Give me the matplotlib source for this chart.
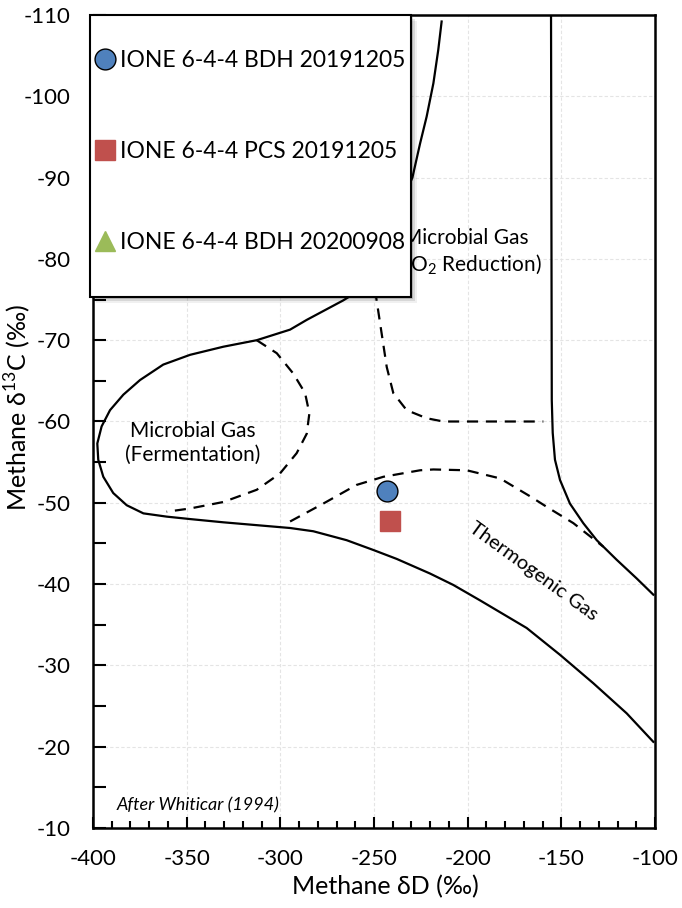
import matplotlib
matplotlib.use("Agg")
import matplotlib.pyplot as plt
from matplotlib.patches import Rectangle
from matplotlib.ticker import MultipleLocator

plt.rcParams['font.family'] = ['Lato', 'DejaVu Sans']
plt.rcParams['axes.unicode_minus'] = False
plt.rcParams['mathtext.fontset'] = 'custom'
plt.rcParams['mathtext.rm'] = 'Lato'

# Whiticar (1994) field boundaries (dD, d13C)
outer_x = [-213.9, -215.7, -218.3, -221.9, -225.4, -229.5, -244.1, -260.1, -266.4, -285.9,
           -294.8, -312.6, -330.4, -348.2, -362.5, -374.9, -383.8, -390.9, -395.4, -397.7,
           -397.2, -394.5, -389.2, -382.0, -373.1, -360.7, -348.2, -330.4, -294.8, -282.4,
           -264.6, -250.4, -237.9, -220.1, -207.7, -193.4, -168.5, -150.7, -132.9, -115.1,
           -100.9]
outer_y = [-109.2, -105.7, -101.6, -97.5, -94.2, -90.0, -82.3, -75.8, -74.9, -72.5,
           -71.3, -70.0, -69.2, -68.2, -67.0, -65.1, -63.3, -61.4, -59.4, -57.3,
           -55.3, -53.2, -51.2, -49.7, -48.7, -48.3, -48.0, -47.6, -46.9, -46.5,
           -45.4, -44.2, -43.1, -41.3, -39.9, -38.0, -34.6, -31.3, -27.8, -24.1,
           -20.6]

right_x = [-155.5, -155.1, -154.6, -153.4, -150.7, -145.4, -138.3, -131.1, -120.5,
           -109.8, -100.9]
right_y = [-110.0, -62.6, -58.6, -55.3, -52.8, -49.9, -47.5, -45.4, -43.0,
           -40.7, -38.7]

ferm_x = [-312.6, -301.9, -293.1, -286.8, -284.5, -285.9, -291.3, -300.2, -312.6, -330.4,
          -348.2, -360.7]
ferm_y = [-70.0, -68.4, -65.9, -63.5, -61.0, -58.5, -56.1, -53.6, -51.6, -50.1,
          -49.3, -48.9]

co2_x = [-249.5, -248.6, -245.9, -243.2, -239.7, -232.6, -221.9, -213.0, -159.6]
co2_y = [-76.2, -74.9, -70.8, -66.7, -63.5, -61.4, -60.4, -60.0, -60.0]

thermo_x = [-294.8, -277.1, -259.3, -245.0, -225.4, -218.3, -200.5, -182.7, -166.7,
            -157.8, -143.6, -127.6]
thermo_y = [-47.7, -49.9, -52.2, -53.2, -54.0, -54.1, -54.0, -53.0, -50.8,
            -49.5, -47.5, -44.6]

# samples
bdh_2019_dD = [-243.1]
bdh_2019_d13C = [-51.5]
pcs_2019_dD = [-241.5]
pcs_2019_d13C = [-47.8]
bdh_2020_dD = []
bdh_2020_d13C = []

fig = plt.figure(figsize=(6.82, 9.08), dpi=100)
ax = fig.add_axes([93 / 682, 1 - 828 / 908, 562 / 682, 813 / 908])

ax.plot(outer_x, outer_y, color='black', lw=1.6)
ax.plot(right_x, right_y, color='black', lw=1.6)
for xs, ys in [(ferm_x, ferm_y), (co2_x, co2_y), (thermo_x, thermo_y)]:
    ax.plot(xs, ys, color='black', lw=1.6, linestyle=(0, (5, 3.5)))

h1, = ax.plot(bdh_2019_dD, bdh_2019_d13C, 'o', ms=15, mfc='#4F81BD', mec='black',
              mew=1.0, label='IONE 6-4-4 BDH 20191205', zorder=5)
h2, = ax.plot(pcs_2019_dD, pcs_2019_d13C, 's', ms=14.5, mfc='#C0504D', mec='#C0504D',
              label='IONE 6-4-4 PCS 20191205', zorder=5)
h3, = ax.plot(bdh_2020_dD, bdh_2020_d13C, '^', ms=15, mfc='#9BBB59', mec='#9BBB59',
              label='IONE 6-4-4 BDH 20200908', zorder=5)

ax.text(-346.6, -57.4, 'Microbial Gas\n(Fermentation)', ha='center', va='center',
        fontsize=15, linespacing=1.25)
ax.text(-200.9, -80.8, 'Microbial Gas\n(CO$_2$ Reduction)', ha='center', va='center',
        fontsize=15, linespacing=1.25)
ax.text(-165.1, -41.5, 'Thermogenic Gas', ha='center', va='center', fontsize=14.5,
        rotation=-36)
ax.text(-387.5, -12.8, 'After Whiticar (1994)', ha='left', va='center', fontsize=13,
        style='italic')

ax.set_xlim(-400, -100)
ax.set_ylim(-10, -110)
ax.xaxis.set_major_locator(MultipleLocator(50))
ax.xaxis.set_minor_locator(MultipleLocator(10))
ax.yaxis.set_major_locator(MultipleLocator(10))
ax.yaxis.set_minor_locator(MultipleLocator(5))
ax.tick_params(which='both', direction='in', width=1.5, labelsize=16, top=False, right=False)
ax.tick_params(axis='x', which='major', length=8, pad=15)
ax.tick_params(axis='x', which='minor', length=5)
ax.tick_params(axis='y', which='both', length=9, pad=16)
for s in ax.spines.values():
    s.set_linewidth(1.8)
ax.grid(True, which='major', color='#e4e4e4', lw=0.8, linestyle=(0, (3, 2)))
ax.set_axisbelow(True)

ax.set_xlabel('Methane δD (‰)', fontsize=18)
ax.set_ylabel('Methane δ$^{13}$C (‰)', fontsize=18)
ax.xaxis.set_label_coords(0.521, -0.058)
ax.yaxis.set_label_coords(-0.107, 0.517)

# legend box with drop shadow
bx, by, bw, bh = 90 / 682, 1 - 297 / 908, 321 / 682, 282 / 908
for k, a in [(6, 0.06), (4, 0.1), (2, 0.15)]:
    fig.patches.append(Rectangle((bx + k / 682, by - k / 908), bw, bh, transform=fig.transFigure,
                                 facecolor='black', alpha=a, edgecolor='none', zorder=9))
fig.patches.append(Rectangle((bx, by), bw, bh, transform=fig.transFigure,
                             facecolor='white', edgecolor='black', lw=1.5, zorder=10))
leg = fig.legend(handles=[h1, h2, h3], loc='upper left', bbox_to_anchor=(95 / 682, 1 - 50 / 908),
                 frameon=False, fontsize=16.5, labelspacing=3.05, handlelength=0.9,
                 handletextpad=0.2, borderpad=0, borderaxespad=0, numpoints=1)
leg.set_zorder(11)

fig.savefig('out.png', dpi=100)
